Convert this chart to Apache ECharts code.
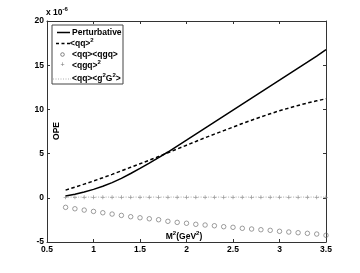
<!DOCTYPE html>
<html><head><meta charset="utf-8">
<script src="https://cdn.jsdelivr.net/npm/echarts@6/dist/echarts.min.js"></script>
<style>html,body{margin:0;padding:0;background:#fff}#c{width:360px;height:273px}</style>
</head><body><div id="c"></div>
<script>
var M2 = [0.7,0.8,0.9,1.0,1.1,1.2,1.3,1.4,1.5,1.6,1.7,1.8,1.9,2.0,2.1,2.2,2.3,2.4,2.5,2.6,2.7,2.8,2.9,3.0,3.1,3.2,3.3,3.4,3.5];
var perturbative = [0.2,0.4,0.65,0.95,1.3,1.72,2.2,2.75,3.33,3.93,4.55,5.18,5.85,6.52,7.2,7.88,8.56,9.24,9.92,10.6,11.28,11.96,12.64,13.3,13.98,14.66,15.34,16.04,16.75];
var qq2 = [0.87,1.2,1.55,1.9,2.27,2.65,3.05,3.45,3.85,4.25,4.67,5.1,5.52,5.95,6.37,6.8,7.2,7.6,8.0,8.4,8.78,9.15,9.5,9.85,10.15,10.45,10.72,10.97,11.2];
var qqqgq = [-1.08,-1.24,-1.39,-1.54,-1.69,-1.84,-1.99,-2.14,-2.26,-2.37,-2.48,-2.66,-2.78,-2.88,-3.0,-3.08,-3.16,-3.27,-3.34,-3.45,-3.53,-3.61,-3.68,-3.79,-3.87,-3.95,-4.02,-4.1,-4.24];
var qgq2 = [0.05,0.05,0.05,0.05,0.05,0.05,0.05,0.05,0.05,0.05,0.05,0.05,0.05,0.05,0.05,0.05,0.05,0.05,0.05,0.05,0.05,0.05,0.05,0.05,0.05,0.05,0.05,0.05,0.05];
var qqG2 = [0.08,0.08,0.08,0.08,0.08,0.08,0.08,0.08,0.08,0.08,0.08,0.08,0.08,0.08,0.08,0.08,0.08,0.08,0.08,0.08,0.08,0.08,0.08,0.08,0.08,0.08,0.08,0.08,0.08];
var legendNames = ['Perturbative','<qq>{s|2}','<qq><qgq>','<qgq>{s|2}','<qq><g{s|2}G{s|2}>'];

function pairs(ys){ return M2.map(function(x,i){ return [x, ys[i]]; }); }
var FONT = 'Liberation Sans';
var axisCol = '#333';
var rich = {
  a:{fontFamily:FONT,fontWeight:'bold',fontSize:8.5,fill:'#000',verticalAlign:'bottom'},
  s:{fontFamily:FONT,fontWeight:'bold',fontSize:6,fill:'#000',verticalAlign:'bottom',padding:[0,0,5,0]}
};
function richText(str){
  var out='', re=/\{s\|([^}]*)\}/g, m, last=0;
  while((m=re.exec(str))){ if(m.index>last) out+='{a|'+str.slice(last,m.index)+'}'; out+='{s|'+m[1]+'}'; last=re.lastIndex; }
  if(last<str.length) out+='{a|'+str.slice(last)+'}';
  return out;
}
var chart = echarts.init(document.getElementById('c'));
var axisBase = {
  axisLine:{show:true,onZero:false,lineStyle:{color:axisCol,width:1}},
  axisTick:{show:true,inside:true,length:3,lineStyle:{color:axisCol}},
  splitLine:{show:false}
};
var lx=52, ly=25;
var legendRows = [32.5,43.5,54.5,65.5,79];
var g = [
  {type:'rect',shape:{x:lx,y:ly,width:71,height:59},style:{fill:'#fff',stroke:'#444',lineWidth:1},z:10},
  {type:'line',shape:{x1:57,y1:legendRows[0],x2:70,y2:legendRows[0]},style:{stroke:'#000',lineWidth:1.5},z:11},
  {type:'line',shape:{x1:56,y1:legendRows[1],x2:70,y2:legendRows[1]},style:{stroke:'#000',lineWidth:1.5,lineDash:[3,2.5]},z:11},
  {type:'circle',shape:{cx:62.5,cy:legendRows[2],r:1.8},style:{fill:'none',stroke:'#666',lineWidth:0.8},z:11},
  {type:'text',style:{text:'+',x:62.5,y:legendRows[3],align:'center',verticalAlign:'middle',fontSize:7,fill:'#777',fontFamily:FONT},z:11},
  {type:'line',shape:{x1:53,y1:legendRows[4],x2:71,y2:legendRows[4]},style:{stroke:'#999',lineWidth:0.8,lineDash:[1,1.5]},z:11},
  {type:'text',style:{text:'{a|x 10}{s|-6}',rich:rich,x:46,y:17,align:'left',verticalAlign:'bottom'},z:11},
  {type:'text',rotation:Math.PI/2,x:57,y:131,style:{text:'OPE',fontFamily:FONT,fontWeight:'bold',fontSize:8.5,fill:'#000',align:'center',verticalAlign:'middle'},z:11},
  {type:'text',style:{text:richText('M{s|2}(GeV{s|2})'),rich:rich,x:184,y:241,align:'center',verticalAlign:'bottom'},z:11}
];
var legendX = [72,70,72,72,72];
legendNames.forEach(function(n,i){
  g.push({type:'text',style:{text:richText(n),rich:rich,x:legendX[i],y:legendRows[i]+4.5,align:'left',verticalAlign:'bottom'},z:11});
});
chart.setOption({
  animation:false,
  backgroundColor:'#fff',
  grid:{left:47,right:34,top:21,bottom:31,containLabel:false},
  xAxis:[
    Object.assign({type:'value',position:'bottom',min:0.5,max:3.5,interval:0.5,
      axisLabel:{fontFamily:FONT,fontWeight:'bold',fontSize:8.5,color:'#000',margin:3}},axisBase),
    Object.assign({type:'value',position:'top',min:0.5,max:3.5,interval:0.5,axisLabel:{show:false}},axisBase)
  ],
  yAxis:[
    Object.assign({type:'value',position:'left',min:-5,max:20,interval:5,
      axisLabel:{fontFamily:FONT,fontWeight:'bold',fontSize:8.5,color:'#000',margin:3}},axisBase),
    Object.assign({type:'value',position:'right',min:-5,max:20,interval:5,axisLabel:{show:false}},axisBase)
  ],
  series:[
    {name:'Perturbative',type:'line',data:pairs(perturbative),showSymbol:false,symbol:'none',lineStyle:{color:'#000',width:1.5}},
    {name:'qq2',type:'line',data:pairs(qq2),symbol:'none',lineStyle:{color:'#000',width:1.5,type:[3.5,2.5]}},
    {name:'qqqgq',type:'scatter',data:pairs(qqqgq),symbol:'circle',symbolSize:4.5,itemStyle:{color:'rgba(255,255,255,0)',borderColor:'#666',borderWidth:0.8},z:5},
    {name:'qgq2',type:'scatter',data:pairs(qgq2),symbol:'path://M4,0h2v10h-2z M0,4h10v2h-10z',symbolSize:4,itemStyle:{color:'#888'}},
    {name:'qqG2',type:'line',data:pairs(qqG2),symbol:'none',lineStyle:{color:'#999',width:0.8,type:[1,1.5]}}
  ],
  graphic:g
});
</script></body></html>
